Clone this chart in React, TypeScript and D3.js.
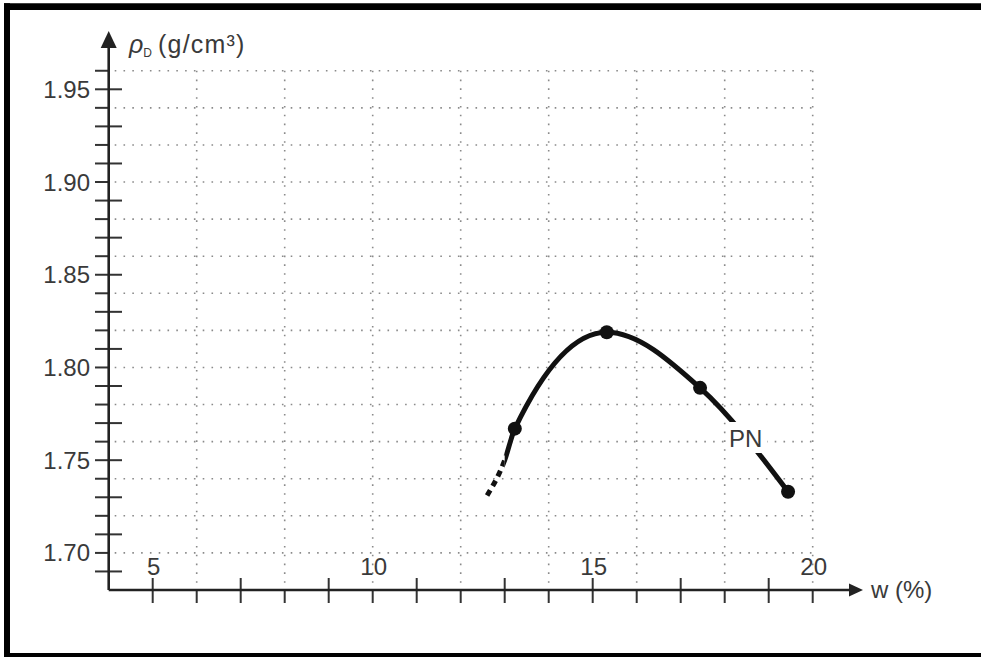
import React from "react";
import * as d3 from "d3";

// Measured points (w %, dry density g/cm3)
const wPoints = [13.23, 15.32, 17.44, 19.44];
const rhoPoints = [1.767, 1.819, 1.789, 1.733];
// Full fitted curve incl. the dashed extrapolated start
const curveW = [12.6, 13.0, 13.23, 15.32, 17.44, 19.44];
const curveRho = [1.731, 1.75, 1.767, 1.819, 1.789, 1.733];
const dashEndW = 13.0; // curve is dashed below this w

const xLabels = [5, 10, 15, 20];
const yLabels = [1.7, 1.75, 1.8, 1.85, 1.9, 1.95];
const xTicks = d3.range(5, 21);
const yTicks = d3.range(169, 197).map((d) => d / 100);
const xGrid = [6, 8, 10, 12, 14, 16, 18, 20];
const yGrid = d3.range(170, 197, 2).map((d) => d / 100);

const W = 981;
const H = 657;
const FONT = "'Liberation Sans', Arial, sans-serif";
const TXT = "#3a3a3a";

export default function App() {
  const x = d3.scaleLinear().domain([4, 20]).range([108.7, 812.7]);
  const y = d3.scaleLinear().domain([1.68, 1.95]).range([590, 89.3]);

  const line = d3
    .line<number>()
    .x((_, i) => x(curveW[i]))
    .y((d) => y(d))
    .curve(d3.curveMonotoneX);
  const d = line(curveRho) || "";

  const x0 = x(4);
  const y0 = y(1.68);
  const gridTop = y(1.96);
  const xs = x(dashEndW);

  return (
    <div style={{ position: "absolute", left: 0, top: 0 }}>
      <svg width={W} height={H} style={{ display: "block", background: "#fff" }} fontFamily={FONT}>
        <defs>
          <clipPath id="dashPart">
            <rect x={0} y={0} width={xs} height={H} />
          </clipPath>
          <clipPath id="solidPart">
            <rect x={xs} y={0} width={W - xs} height={H} />
          </clipPath>
        </defs>
        {/* frame */}
        <line x1={4} y1={6.7} x2={W} y2={6.7} stroke="#000" strokeWidth={6.7} />
        <line x1={7} y1={3.3} x2={7} y2={H} stroke="#000" strokeWidth={6} />
        <line x1={4} y1={656} x2={W} y2={656} stroke="#000" strokeWidth={6} />

        {/* grid */}
        {yGrid.map((v) => (
          <line key={"gy" + v} x1={x0 + 6} x2={x(20)} y1={y(v)} y2={y(v)} stroke="#8a8a8a" strokeWidth={1.6} strokeDasharray="1.6,7.2" />
        ))}
        {xGrid.map((v) => (
          <line key={"gx" + v} x1={x(v)} x2={x(v)} y1={gridTop} y2={y0 - 6} stroke="#8a8a8a" strokeWidth={1.6} strokeDasharray="1.6,7.2" />
        ))}

        {/* y ticks */}
        {yTicks.map((v) => {
          const odd = Math.round(v * 100) % 2 === 1;
          return (
            <line key={"ty" + v} x1={95} x2={odd ? 122 : x0} y1={y(v)} y2={y(v)} stroke="#333" strokeWidth={2} />
          );
        })}
        {/* x ticks */}
        {xTicks.map((v) => {
          const odd = v % 2 === 1;
          return (
            <line key={"tx" + v} x1={x(v)} x2={x(v)} y1={odd ? y0 - 12 : y0} y2={y0 + 13} stroke="#333" strokeWidth={2} />
          );
        })}

        {/* axes */}
        <line x1={x0} y1={y0} x2={x0} y2={45} stroke="#222" strokeWidth={2.6} />
        <path d={`M${x0},31 L${x0 - 8},48 L${x0 + 8},48 Z`} fill="#222" />
        <line x1={x0} y1={y0} x2={851} y2={y0} stroke="#222" strokeWidth={2.6} />
        <path d={`M863,${y0} L849,${y0 - 6.5} L849,${y0 + 6.5} Z`} fill="#222" />

        {/* tick labels */}
        {yLabels.map((v) => (
          <text key={"ly" + v} x={90} y={y(v) + 8.5} textAnchor="end" fontSize={24} fill={TXT}>
            {v.toFixed(2)}
          </text>
        ))}
        {xLabels.map((v) => (
          <text key={"lx" + v} x={x(v) + 1} y={575} textAnchor="middle" fontSize={24} fill={TXT}>
            {v}
          </text>
        ))}

        {/* axis titles */}
        <text x={129} y={53} fontSize={25} fill={TXT}>
          <tspan fontStyle="italic">ρ</tspan>
          <tspan fontSize={12} dy={4}>D</tspan>
          <tspan dy={-4} dx={6} letterSpacing={1.2}>(g/cm³)</tspan>
        </text>
        <text x={871} y={598} fontSize={24} fill={TXT}>w (%)</text>

        {/* curve */}
        <path d={d} fill="none" stroke="#111" strokeWidth={5} strokeDasharray="6,5" clipPath="url(#dashPart)" />
        <path d={d} fill="none" stroke="#111" strokeWidth={5} clipPath="url(#solidPart)" />
        {wPoints.map((w, i) => (
          <circle key={"p" + i} cx={x(w)} cy={y(rhoPoints[i])} r={7} fill="#111" />
        ))}

        {/* PN label with white background */}
        <rect x={727} y={422} width={40} height={31} fill="#fff" />
        <text x={729} y={447} fontSize={24} fill={TXT}>PN</text>
      </svg>
    </div>
  );
}
